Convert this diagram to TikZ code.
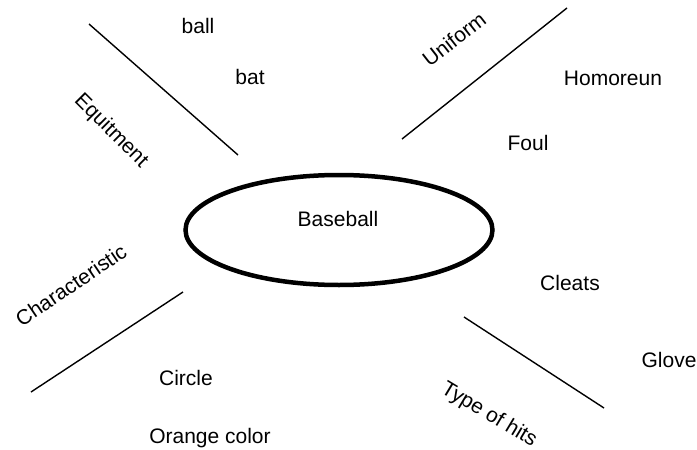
\documentclass[tikz,border=0pt]{standalone}
\usepackage{fontspec}
\setmainfont{Liberation Sans}
\usetikzlibrary{shapes.geometric}

\begin{document}
\begin{tikzpicture}[
  x=1pt, y=-1pt,
  every node/.style={font=\fontsize{21}{25}\selectfont, inner sep=0pt},
  word/.style={anchor=base},
  branch/.style={rotate=#1},
  spoke/.style={line width=1.4pt},
  hub/.style={ellipse, draw, line width=4.5pt, minimum width=307pt,
              minimum height=110pt},
]
  \useasboundingbox (0,0) rectangle (697,450);

  % centre
  \node[hub] (hub) at (339,230) {};
  \node[word] (baseball) at (338,226) {Baseball};

  % Equipment branch
  \coordinate (eqA) at (89,24);
  \coordinate (eqB) at (238,155);
  \draw[spoke] (eqA) -- (eqB);
  \node[branch=-45] (equip) at (111,131) {Equitment};
  \node[word] (ball) at (198,33) {ball};
  \node[word] (bat) at (250,84) {bat};

  % Uniform branch
  \coordinate (unA) at (402,139);
  \coordinate (unB) at (567,8);
  \draw[spoke] (unA) -- (unB);
  \node[branch=38] (uniform) at (454,39) {Uniform};
  \node[word] (homerun) at (613,85) {Homoreun};
  \node[word] (foul) at (528,150) {Foul};

  % Characteristic branch
  \coordinate (chA) at (31,392);
  \coordinate (chB) at (183,292);
  \draw[spoke] (chA) -- (chB);
  \node[branch=34] (charac) at (71,285) {Characteristic};
  \node[word] (circle) at (186,385) {Circle};
  \node[word] (orange) at (210,443) {Orange color};

  % Type of hits branch
  \coordinate (thA) at (464,317);
  \coordinate (thB) at (604,408);
  \draw[spoke] (thA) -- (thB);
  \node[branch=-31] (hits) at (489,415) {Type of hits};
  \node[word] (cleats) at (570,290) {Cleats};
  \node[word] (glove) at (669,367) {Glove};
\end{tikzpicture}
\end{document}
